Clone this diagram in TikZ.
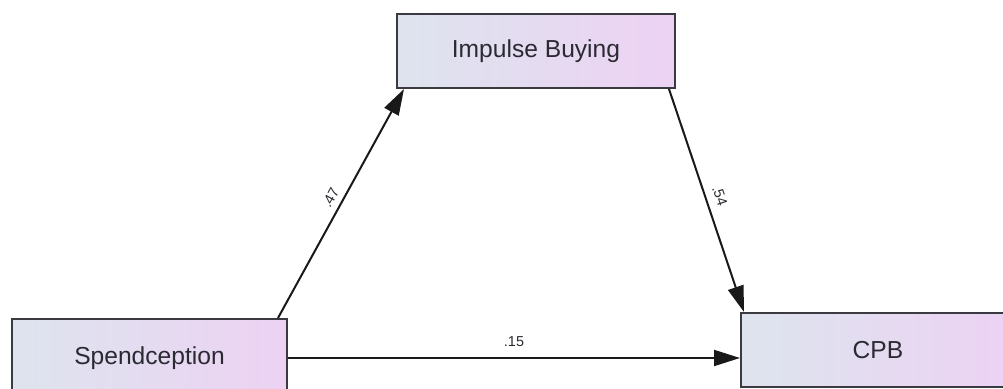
\documentclass[tikz,border=0pt]{standalone}
\usepackage{fontspec}
\setmainfont{Liberation Sans}
\usetikzlibrary{arrows.meta,calc}
\definecolor{boxleft}{HTML}{DDE4EE}
\definecolor{boxright}{HTML}{EDD2F4}
\definecolor{boxborder}{HTML}{3A3A40}
\definecolor{txt}{HTML}{2A2A33}
\tikzset{
  varbox/.style={draw=boxborder, line width=1pt, left color=boxleft, right color=boxright,
    minimum width=138pt, minimum height=37pt, inner sep=0pt, font=\fontsize{12.3}{14}\selectfont, text=txt},
  path/.style={line width=1pt, draw=black!90, -{Triangle[length=13pt,width=8pt]}},
  coef/.style={font=\fontsize{7.2}{8}\selectfont, text=txt, inner sep=1pt, sloped}
}
\begin{document}
\begin{tikzpicture}[x=0.5pt,y=-0.5pt]
\useasboundingbox (0,0) rectangle (1003,389);
\clip (0,0) rectangle (1003,389);
\fill[white] (0,0) rectangle (1003,389);
\node[varbox, minimum width=139pt] (ib) at (536,51) {Impulse Buying};
\node[varbox, minimum width=137.5pt, minimum height=39pt] (sp) at (149.5,358) {Spendception};
\node[varbox, minimum width=137pt] (cpb) at (878,350) {CPB};
\coordinate (a1) at ($(sp.north east)+(-10,0)$);
\coordinate (a2) at ($(ib.south west)+(8,0)$);
\coordinate (b1) at ($(ib.south east)+(-7,0)$);
\coordinate (b2) at ($(cpb.north west)+(4,0)$);
\draw[path] (a1) -- node[coef, midway, above=2pt] {.47} (a2);
\draw[path] (b1) -- node[coef, midway, above=3pt] {.54} (b2);
\draw[path] (sp.east) -- node[coef, midway, above=4pt] {.15} (sp.east -| cpb.west);
\end{tikzpicture}
\end{document}
